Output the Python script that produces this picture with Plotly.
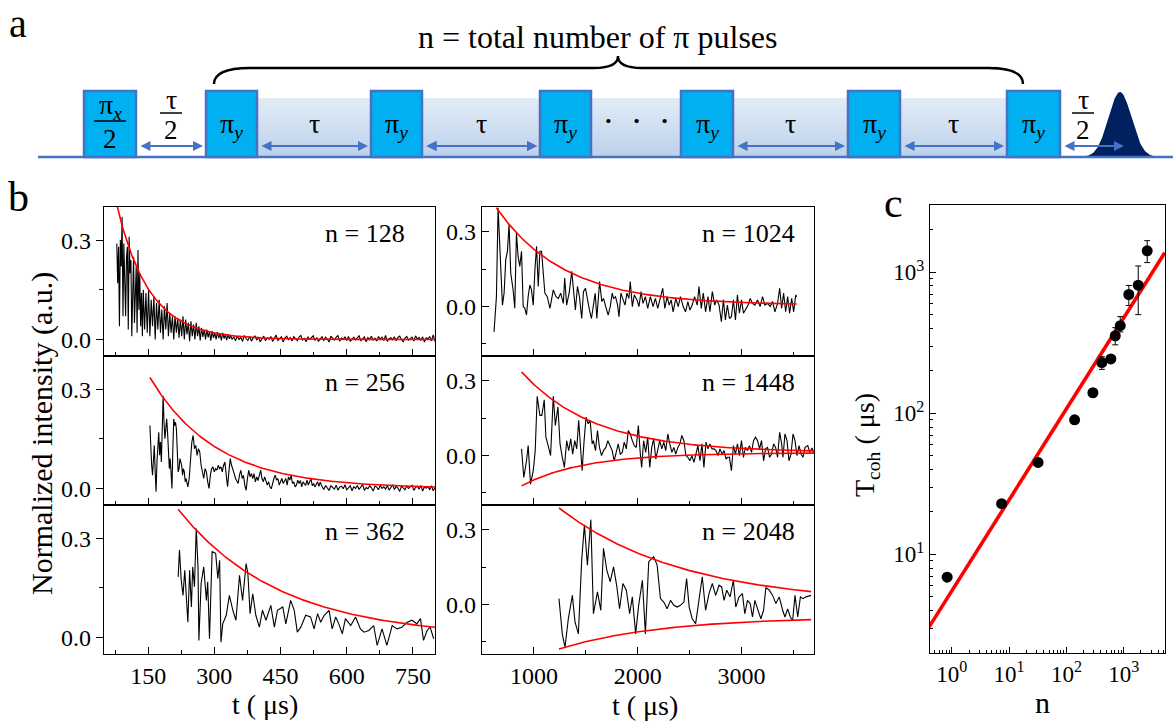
import numpy as np
import plotly.graph_objects as go

W, H = 1173, 721
FONT = "Liberation Serif, Times New Roman, serif"

# ================= panel b : measured traces =================
# n = 128 : regularly sampled segments (start, step, values)
n128_seg1_start, n128_seg1_step = 79, 2
n128_seg1 = [0.29, 0.17, 0.28, 0.04, 0.30, 0.22, 0.37, 0.07, 0.29, 0.16,
             0.07, 0.25, 0.28, 0.03, 0.31, 0.20, 0.24, 0.01, 0.19, 0.25,
             0.05, 0.16, 0.22, 0.02, 0.27, 0.09, 0.20, 0.04, 0.14, 0.01, 0.15]
n128_seg2_start, n128_seg2_step = 142, 3
n128_seg2 = [0.03, 0.14, 0.02, 0.15, 0.01, 0.12, 0.04, 0.13, 0.00, 0.11,
             0.03, 0.12, 0.02, 0.09, 0.00, 0.10, 0.03, 0.11, 0.01, 0.08,
             0.02, 0.07, 0.00, 0.07, 0.02, 0.065, 0.005, 0.06, 0.01, 0.07,
             0.00, 0.06, 0.015, 0.05, -0.005, 0.055, 0.01, 0.045, 0.00, 0.05,
             0.01, 0.04, -0.003, 0.035, 0.008, 0.03, 0.00, 0.03, 0.006, 0.025,
             -0.004, 0.025, 0.005, 0.02, 0.00, 0.022, 0.004, 0.017, -0.003, 0.02,
             0.003, 0.014, -0.002, 0.015, 0.002, 0.012, 0.00]
n128_seg3_start, n128_seg3_step = 344, 4
n128_seg3_milli = [8, -4, 10, 0, 6, -6, 12, 2, -3, 9, -5, 4, 11, -2, 7, -7, 3, 10, -4, 5,
                   0, 9, -6, 6, 13, -3, 2, 8, -8, 4, 10, -1, 6, -5, 9, 1, -4, 7, 12, -2,
                   3, -7, 8, 0, 5, 11, -3, 6, -6, 2, 9, -4, 7, 1, -8, 10, 3, -2, 6, 12,
                   -5, 4, 0, 8, -3, 9, -6, 2, 7, -1, 5, 11, -4, 3, 8, -7, 6, 0, 10, -2,
                   4, -5, 9, 1, 7, -3, 12, -6, 2, 5, -1, 8, -4, 6, 10, 0, -7, 4, 9, -2,
                   3, 7, -5, 11, 1, 6, -3, 8, -8, 5, 2, 9, -4, 14, -6]

# n = 256
n256_seg1_start, n256_seg1_step = 154, 2
n256_seg1 = [0.19, 0.10, 0.07, 0.04, 0.09, 0.13, 0.05, -0.01, 0.08, 0.12,
             0.17, 0.10, 0.14, 0.08, 0.16, 0.28, 0.20, 0.15, 0.18, 0.21,
             0.17, 0.12, 0.06, 0.09, 0.03, 0.00, 0.12, 0.21, 0.19, 0.20,
             0.18, 0.11, 0.05, 0.06, 0.09, 0.08, 0.07, 0.04, 0.06, 0.05,
             0.02, 0.03, 0.01, 0.005]
n256_seg2_start, n256_seg2_step = 243, 3
n256_seg2 = [0.03, 0.09, 0.14, 0.16, 0.12, 0.13, 0.10, 0.12, 0.11, 0.07,
             0.05, 0.03, 0.06, 0.05, 0.02, 0.00, 0.04, 0.06, 0.065, 0.05,
             0.06, 0.055, 0.07, 0.06, 0.065, 0.05, 0.07, 0.08, 0.04, 0.005,
             0.05, 0.09, 0.07, 0.06, 0.045, 0.03, 0.02, 0.015, 0.04, 0.055,
             0.03, 0.04, 0.01, -0.006, 0.03, 0.055, 0.035, 0.045, 0.03, 0.045,
             0.02, 0.035, 0.024, 0.04, 0.055, 0.03, 0.02, 0.035, 0.024, 0.01,
             0.02, 0.005, -0.001, 0.02, 0.03, 0.04, 0.025, 0.03, 0.01, 0.02,
             0.03, 0.015, 0.025, 0.03, 0.01, 0.035, 0.025, 0.04, 0.015, 0.02,
             0.005, 0.01, 0.025, 0.015, 0.024, 0.005, 0.02, 0.012, 0.009, 0.025,
             0.01, 0.02, 0.029, 0.008, 0.015, 0.004, 0.012, 0.02, 0.006, 0.019]
n256_seg3_start, n256_seg3_step = 544, 4
n256_seg3_milli = [6, -3, 9, 1, -6, 8, 3, -2, 10, -5, 4, 7, -1, 11, -4, 2, 8, -7, 5, 0,
                   9, -3, 6, 12, -6, 3, -1, 8, 2, -8, 7, 4, -4, 10, 0, 5, -2, 9, -5, 3,
                   11, -3, 6, 1, -9, 7, 2, -4, 8, 0, 5, 10, -6, 3, 7, -2, 9, -8, 4, 1,
                   6, -4, 8, -7, 2]

# n = 362
t362 = [218, 221, 225, 229, 233, 236, 240, 244, 248, 251, 255, 259, 263, 265, 270, 276, 282, 285, 289, 295,
        303, 308, 312, 315, 319, 327, 334, 342, 349, 357, 364, 372, 376, 381, 387, 394, 402, 409, 417, 428,
        436, 443, 455, 462, 473, 481, 488, 496, 507, 518, 526, 534, 541, 549, 560, 567, 575, 582, 590, 597,
        609, 620, 631, 639, 650, 661, 669, 680, 691, 703, 714, 725, 737, 748, 759, 767, 774, 782, 789, 797]
v362 = [.183, .264, .173, .127, .203, .142, .046, .203, .092, .213, .153, .329, .213, -.009, .163, .213, .112, .168, -.004, .259,
        .254, .178, .233, -.014, .041, .067, .127, .082, .052, .188, .112, .223, .193, .072, .132, .067, .031, .082, .052, .097,
        .031, .082, .092, .041, .112, .082, .016, .031, .067, .062, .026, .072, .046, .067, .082, .026, .062, .041, .011, .057,
        .036, .062, .026, .016, .021, .036, -.024, .026, -.024, .036, .026, .031, .046, .052, .041, .057, -.009, .021, .031, -.004]

# n = 1024
t1024 = [616, 639, 655, 677, 697, 713, 729, 745, 761, 777, 800, 816, 832, 848, 864, 881, 897, 913, 929, 945,
         961, 977, 994, 1010, 1026, 1042, 1058, 1074, 1090, 1106, 1129, 1155, 1187, 1213, 1236, 1258, 1284, 1297, 1316, 1342,
         1365, 1381, 1400, 1420, 1439, 1461, 1478, 1497, 1516, 1536, 1555, 1574, 1591, 1607, 1633, 1655, 1671, 1697, 1716, 1736,
         1755, 1768, 1787, 1807, 1820, 1839, 1858, 1878, 1897, 1916, 1929, 1949, 1968, 1994, 2013, 2033, 2052, 2075, 2097, 2123,
         2149, 2171, 2194, 2220, 2242, 2262, 2284, 2304, 2323, 2342, 2368, 2391, 2413, 2439, 2462, 2484, 2504, 2526, 2549, 2575,
         2591, 2614, 2633, 2655, 2678, 2697, 2720, 2743, 2762, 2785, 2807, 2827, 2846, 2865, 2885, 2904, 2923, 2943, 2962, 2981,
         3001, 3020, 3043, 3065, 3085, 3107, 3130, 3156, 3181, 3204, 3227, 3252, 3278, 3301, 3323, 3349, 3369, 3388, 3407, 3427,
         3446, 3465, 3485, 3504, 3524, 3533]
v1024 = [-.103, .039, .397, .201, .005, .053, .188, .222, .330, .134, .066, -.008, .296, .201, .161, .222, -.001, -.008, -.035, .039,
         .086, .066, .005, .147, .242, .080, .222, .222, .120, .053, .039, -.008, .066, .039, .032, .053, .012, .114, .005, .059,
         .141, .066, -.015, .080, .039, -.049, .059, .073, .026, -.015, -.049, .005, .053, -.049, .100, .019, .032, -.008, -.035, -.001,
         .053, .032, .039, .005, -.042, .053, .032, .005, .053, .032, .100, -.001, .046, .026, -.001, .059, .012, .039, -.008, .039,
         -.001, .032, -.008, .039, .073, -.008, .039, .005, .026, -.022, .032, -.001, .039, -.001, -.022, .019, -.015, .005, .039, .005,
         .080, -.008, .053, -.022, .039, -.022, .059, .005, .026, .005, -.062, .026, -.055, .005, -.049, -.042, .026, -.055, .046, -.028,
         .026, -.028, -.008, .005, .032, .012, .005, .026, -.001, .039, .005, .012, -.001, .019, -.022, .012, .073, -.008, .053, -.022,
         .039, -.028, .032, -.022, .046, .039]

# n = 1448
t1448 = [881, 903, 929, 945, 968, 994, 1013, 1032, 1058, 1077, 1100, 1116, 1142, 1161, 1187, 1207, 1232, 1252, 1274, 1294,
         1316, 1336, 1355, 1374, 1394, 1413, 1432, 1452, 1465, 1484, 1503, 1523, 1542, 1562, 1574, 1594, 1613, 1632, 1652, 1671,
         1694, 1713, 1736, 1755, 1774, 1794, 1813, 1833, 1852, 1871, 1891, 1910, 1929, 1949, 1968, 1987, 2007, 2026, 2039, 2058,
         2078, 2097, 2117, 2136, 2155, 2175, 2194, 2213, 2233, 2252, 2271, 2291, 2310, 2330, 2349, 2368, 2388, 2407, 2426, 2446,
         2465, 2484, 2504, 2523, 2543, 2562, 2581, 2601, 2620, 2639, 2659, 2678, 2697, 2717, 2736, 2755, 2775, 2794, 2814, 2833,
         2852, 2865, 2885, 2904, 2923, 2943, 2962, 2981, 3001, 3020, 3039, 3059, 3078, 3098, 3117, 3136, 3156, 3175, 3194, 3214,
         3233, 3252, 3272, 3291, 3311, 3330, 3349, 3369, 3388, 3401, 3420, 3440, 3459, 3478, 3498, 3517, 3536, 3556, 3575, 3594,
         3614, 3640, 3659, 3680, 3706]
v1448 = [.026, -.089, -.022, .039, -.116, -.062, .019, .238, .161, .161, .224, .073, .032, -.001, .238, .120, .195, .046, -.008, -.049,
         .059, .019, .066, .005, .059, .026, .141, -.008, -.062, .059, .154, .127, .141, .046, .059, .019, .100, .032, -.001, .019,
         .032, .059, .039, .019, -.022, .019, .046, .005, .012, .053, .026, .100, .086, .059, .039, .032, .120, .005, -.049, .059,
         .012, .073, -.049, .032, .066, -.015, .019, .059, .026, .053, .019, .086, .046, .012, .032, .005, .032, .046, .080, .059,
         -.001, -.008, -.022, -.001, -.028, .005, .039, -.022, .046, -.049, .053, .026, .046, .026, .026, .019, -.001, .026, .005, .019,
         -.015, -.008, -.008, -.062, .039, .005, .046, -.001, .059, -.008, .032, .019, .039, .012, .059, .073, .059, .026, .059, -.022,
         .026, .032, -.008, .005, .046, .032, -.008, .093, .046, -.008, .086, .059, -.022, .005, .086, .059, -.001, .039, .005, -.008,
         .032, .039, .012, .030, .005]

# n = 2048
t2048 = [1242, 1274, 1300, 1332, 1371, 1397, 1429, 1461, 1487, 1516, 1549, 1574, 1613, 1645, 1671, 1703, 1736, 1768, 1800, 1826,
         1858, 1891, 1923, 1949, 1981, 2010, 2046, 2075, 2107, 2155, 2188, 2220, 2252, 2284, 2317, 2349, 2381, 2413, 2446, 2472,
         2497, 2526, 2559, 2591, 2623, 2655, 2688, 2720, 2752, 2785, 2810, 2833, 2859, 2891, 2923, 2946, 2978, 3010, 3033, 3059,
         3085, 3107, 3130, 3156, 3188, 3214, 3236, 3269, 3301, 3333, 3365, 3398, 3420, 3446, 3472, 3494, 3517, 3543, 3569, 3594,
         3623, 3672]
v2048 = [.023, -.119, -.173, -.058, .036, -.072, -.119, .178, .320, .158, .341, -.038, .050, -.024, .226, .138, .091, .151, .070, -.018,
         .084, .057, -.038, .030, -.119, -.004, .097, -.119, .172, .192, .158, .023, .009, -.018, .016, -.004, -.011, -.004, .009, .104,
         -.011, -.058, -.078, .016, .111, -.024, .043, .084, .036, .077, .070, .016, .057, .030, .097, -.011, .030, .043, -.038, .016,
         .003, -.051, .016, -.018, -.058, -.024, .068, .057, .036, .003, .030, -.024, -.051, -.018, -.051, -.065, .036, -.051, .030, .023,
         .030, .036]

# exponential envelope fits: (t_start, t_end, t0, amplitude, decay time, offset)
fits_128 = [(75, 800, 80, 0.40, 73, 0.0)]
fits_256 = [(154, 800, 154, 0.335, 150, 0.0)]
fits_362 = [(218, 800, 218, 0.387, 230, 0.0)]
fits_1024 = [(639, 3533, 639, 0.392, 650, 0.005)]
fits_1448 = [(881, 3706, 881, 0.324, 700, 0.012), (881, 3706, 881, -0.133, 600, 0.010)]
fits_2048 = [(1242, 3672, 1242, 0.388, 1200, 0.0), (1242, 3672, 1242, -0.13, 1000, -0.05)]

# ================= panel c =================
n_pulses = [0.83, 7.4, 32, 139, 290, 415, 596, 711, 869, 1227, 1790, 2567]
T_coh = [6.9, 22.9, 44.9, 90, 140, 229, 243, 355, 418, 696, 811, 1419]
T_err_plus = [0, 0, 0, 0, 0, 23, 0, 50, 67, 111, 298, 256]
T_err_minus = [0, 0, 0, 0, 0, 24, 0, 49, 40, 115, 310, 247]
fit_n = [0.4, 5200]
fit_T = [3.05, 1378]

# ================= panel a : pulse sequence schematic (drawing units = px) =================
pulse_left = [84, 206, 371, 540, 681, 848, 1007]
pulse_right = [136, 257, 422, 591, 733, 900, 1060]
tau_gaps = [(1, 2), (2, 3), (4, 5), (5, 6)]


def segs(parts):
    ts, vs = [], []
    for start, step, vals in parts:
        ts.append(start + step * np.arange(len(vals)))
        vs.append(np.asarray(vals, dtype=float))
    return np.concatenate(ts), np.concatenate(vs)


t128, v128 = segs([(n128_seg1_start, n128_seg1_step, n128_seg1),
                   (n128_seg2_start, n128_seg2_step, n128_seg2),
                   (n128_seg3_start, n128_seg3_step, np.array(n128_seg3_milli) / 1000.0)])
t256, v256 = segs([(n256_seg1_start, n256_seg1_step, n256_seg1),
                   (n256_seg2_start, n256_seg2_step, n256_seg2),
                   (n256_seg3_start, n256_seg3_step, np.array(n256_seg3_milli) / 1000.0)])

panels = [
    (1, t128, v128, fits_128, "n = 128"),
    (2, t256, v256, fits_256, "n = 256"),
    (3, t362, v362, fits_362, "n = 362"),
    (4, t1024, v1024, fits_1024, "n = 1024"),
    (5, t1448, v1448, fits_1448, "n = 1448"),
    (6, t2048, v2048, fits_2048, "n = 2048"),
]


def r(i, k):
    return k if i == 1 else f"{k}{i}"


def an(i, k):
    return f"{k}axis" if i == 1 else f"{k}axis{i}"


fig = go.Figure()

for i, t, v, fits, lab in panels:
    fig.add_trace(go.Scatter(x=t, y=v, mode="lines", line=dict(color="black", width=1.1),
                             xaxis=r(i, "x"), yaxis=r(i, "y"), hoverinfo="skip", showlegend=False))
    for (ts, te, t0, A, T, c) in fits:
        tt = np.linspace(ts, te, 300)
        fig.add_trace(go.Scatter(x=tt, y=c + A * np.exp(-(tt - t0) / T), mode="lines",
                                 line=dict(color="#FF0000", width=1.6),
                                 xaxis=r(i, "x"), yaxis=r(i, "y"), hoverinfo="skip", showlegend=False))

# panel c
fig.add_trace(go.Scatter(x=fit_n, y=fit_T, mode="lines", line=dict(color="#FF0000", width=3.6),
                         xaxis="x7", yaxis="y7", showlegend=False, hoverinfo="skip"))
fig.add_trace(go.Scatter(x=n_pulses, y=T_coh, mode="markers",
                         marker=dict(color="black", size=11),
                         error_y=dict(type="data", array=T_err_plus, arrayminus=T_err_minus,
                                      color="black", thickness=1, width=3, symmetric=False),
                         xaxis="x7", yaxis="y7", showlegend=False))

# panel a traces (band with gradient, gaussian readout pulse)
band_top, base_y, box_top = 98, 157, 91
fig.add_trace(go.Scatter(x=[pulse_left[1], pulse_right[-1], pulse_right[-1], pulse_left[1], pulse_left[1]],
                         y=[band_top, band_top, base_y, base_y, band_top], mode="lines", fill="toself",
                         line=dict(width=0), fillgradient=dict(type="vertical", start=band_top, stop=base_y,
                                                               colorscale=[[0, "#E2ECF7"], [1, "#BCD1EA"]]),
                         xaxis="x8", yaxis="y8", hoverinfo="skip", showlegend=False))
gx = np.linspace(1082, 1158, 120)
gy = base_y - 65 * np.exp(-0.5 * ((gx - 1120) / 11.5) ** 2)
fig.add_trace(go.Scatter(x=np.concatenate([gx, [1158, 1082]]), y=np.concatenate([gy, [base_y, base_y]]),
                         mode="lines", fill="toself", fillcolor="#002060", line=dict(width=0, color="#002060"),
                         xaxis="x8", yaxis="y8", hoverinfo="skip", showlegend=False))

# ---------------- axes ----------------
def xd(p0, p1):
    return [p0 / W, p1 / W]


def yd(top, bot):
    return [1 - bot / H, 1 - top / H]


rows = [(207, 356), (356, 505), (505, 654)]
base_axis = dict(showline=True, linecolor="black", linewidth=1.3, mirror=True, showgrid=False, zeroline=False,
                 tickcolor="black", tickwidth=1.3, tickfont=dict(family=FONT, size=24, color="black"))
lay = {}
for i in range(1, 7):
    left = i <= 3
    row = rows[(i - 1) % 3]
    bottom = (i % 3 == 0)
    xa = dict(base_axis, domain=xd(104, 435) if left else xd(482, 814), anchor=r(i, "y"),
              ticks="inside", ticklen=7, showticklabels=bottom)
    if left:
        xa.update(range=[50, 800], tickmode="array", tickvals=[150, 300, 450, 600, 750],
                  minor=dict(tickmode="array", tickvals=[75, 225, 375, 525, 675], ticks="inside", ticklen=4,
                             tickcolor="black", tickwidth=1.3))
    else:
        xa.update(range=[500, 3700], tickmode="array", tickvals=[1000, 2000, 3000],
                  minor=dict(tickmode="array", tickvals=[1500, 2500, 3500], ticks="inside", ticklen=4,
                             tickcolor="black", tickwidth=1.3))
    ya = dict(base_axis, domain=yd(*row), anchor=r(i, "x"), tickmode="array", tickvals=[0, 0.3],
              ticktext=["0.0", "0.3"])
    if left:
        ya.update(range=[-0.05, 0.4], ticks="outside", ticklen=7,
                  minor=dict(tickmode="array", tickvals=[0.15], ticks="outside", ticklen=4,
                             tickcolor="black", tickwidth=1.3))
    else:
        ya.update(range=[-0.2, 0.4], ticks="inside", ticklen=7,
                  minor=dict(tickmode="array", tickvals=[-0.15, 0.15], ticks="inside", ticklen=4,
                             tickcolor="black", tickwidth=1.3))
    lay[an(i, "x")] = xa
    lay[an(i, "y")] = ya

minor_log_x = [k * 10 ** d for d in range(-1, 4) for k in range(2, 10) if 0.42 <= k * 10 ** d <= 5200]
minor_log_y = [k * 10 ** d for d in range(0, 4) for k in range(2, 10) if 2 <= k * 10 ** d <= 3000]
lay["xaxis7"] = dict(base_axis, type="log", domain=xd(930, 1165), anchor="y7", range=[-0.38, 3.72],
                     tickmode="array", tickvals=[1, 10, 100, 1000],
                     ticktext=["10<sup>0</sup>", "10<sup>1</sup>", "10<sup>2</sup>", "10<sup>3</sup>"],
                     ticks="inside", ticklen=6, tickfont=dict(family=FONT, size=23, color="black"),
                     minor=dict(tickmode="array", tickvals=minor_log_x, ticks="inside", ticklen=3,
                                tickcolor="black", tickwidth=1))
lay["yaxis7"] = dict(base_axis, type="log", domain=yd(205, 653), anchor="x7", range=[np.log10(2), np.log10(3000)],
                     tickmode="array", tickvals=[10, 100, 1000],
                     ticktext=["10<sup>1</sup>", "10<sup>2</sup>", "10<sup>3</sup>"],
                     ticks="inside", ticklen=6, tickfont=dict(family=FONT, size=23, color="black"),
                     minor=dict(tickmode="array", tickvals=minor_log_y, ticks="inside", ticklen=3,
                                tickcolor="black", tickwidth=1))
lay["xaxis8"] = dict(domain=[0, 1], range=[0, W], visible=False, anchor="y8", fixedrange=True)
lay["yaxis8"] = dict(domain=[0, 1], range=[H, 0], visible=False, anchor="x8", fixedrange=True)

# ---------------- shapes (panel a) ----------------
BLUE = "#4472C4"
shapes = [dict(type="line", xref="x8", yref="y8", x0=38, x1=W, y0=base_y, y1=base_y,
               line=dict(color=BLUE, width=2.5))]
for x0, x1 in zip(pulse_left, pulse_right):
    shapes.append(dict(type="rect", xref="x8", yref="y8", x0=x0, x1=x1, y0=box_top, y1=base_y,
                       fillcolor="#00B0F0", line=dict(color=BLUE, width=2.5)))
# fraction bars
shapes.append(dict(type="line", xref="x8", yref="y8", x0=94, x1=126, y0=121, y1=121, line=dict(color="black", width=1.5)))
for cx in [171, 1083]:
    shapes.append(dict(type="line", xref="x8", yref="y8", x0=cx - 11, x1=cx + 11, y0=113, y1=113,
                       line=dict(color="black", width=1.5)))
# brace
shapes.append(dict(type="path", xref="x8", yref="y8",
                   path="M 214,84 C 214,74 226,68 250,68 L 594,68 C 610,68 618,64 618,56 "
                        "C 618,64 626,68 642,68 L 988,68 C 1012,68 1023,74 1023,84",
                   line=dict(color="black", width=2.4)))

# ---------------- annotations ----------------
ann = []


def txt(x, y, s, size, angle=0, xanchor="center", xref="x8", yref="y8"):
    ann.append(dict(x=x, y=y, xref=xref, yref=yref, text=s, showarrow=False, textangle=angle,
                    xanchor=xanchor, yanchor="middle", font=dict(family=FONT, size=size, color="black")))


def arrow(xa, xb, y):
    ann.append(dict(x=xb, y=y, ax=xa, ay=y, xref="x8", yref="y8", axref="x8", ayref="y8", text="",
                    showarrow=True, arrowhead=2, startarrowhead=2, arrowside="end+start", arrowsize=1,
                    startarrowsize=1, arrowwidth=2, arrowcolor=BLUE, standoff=0, startstandoff=0))


txt(18, 23, "a", 40)
txt(18, 197, "b", 42)
txt(893, 203, "c", 42)
txt(597, 37, "n = total number of π pulses", 32)

# pulse labels
txt(110, 106, "π<sub><i>x</i></sub>", 28)
txt(110, 139, "2", 27)
for k in range(1, 7):
    txt((pulse_left[k] + pulse_right[k]) / 2, 125, "π<sub><i>y</i></sub>", 28)
for a_, b_ in tau_gaps:
    cx = (pulse_right[a_] + pulse_left[b_]) / 2
    txt(cx, 123, "τ", 28)
for cx in [171, 1083]:
    txt(cx, 99, "τ", 28)
    txt(cx, 130, "2", 27)
txt((pulse_right[3] + pulse_left[4]) / 2, 120, "<b>·   ·   ·</b>", 26)

arrow_y = 146
arrow(pulse_right[0] + 3, pulse_left[1] - 3, arrow_y)
for a_, b_ in tau_gaps:
    arrow(pulse_right[a_] + 3, pulse_left[b_] - 3, arrow_y)
arrow(pulse_right[2] + 3, pulse_left[3] - 3, arrow_y)
arrow(pulse_right[6] + 3, 1124, arrow_y)

# panel b labels
for i, _, _, _, lab in panels:
    left = i <= 3
    ann.append(dict(x=0.915 if left else 0.95, y=0.82, xref=f"{r(i, 'x')} domain", yref=f"{r(i, 'y')} domain",
                    text=lab, showarrow=False, xanchor="right", yanchor="middle",
                    font=dict(family=FONT, size=26, color="black")))
txt(42, 434, "Normalized intensity (a.u.)", 30, angle=-90)
txt(265, 704, "t ( μs)", 28)
txt(645, 705, "t ( μs)", 28)
txt(866, 445, "T<sub>coh</sub> ( μs)", 28, angle=-90)
txt(1042, 702, "n", 30)

fig.update_layout(width=W, height=H, margin=dict(l=0, r=0, t=0, b=0), paper_bgcolor="white",
                  plot_bgcolor="rgba(0,0,0,0)", showlegend=False, shapes=shapes, annotations=ann,
                  font=dict(family=FONT, color="black"), **lay)

fig.write_html("out.html", config={"displayModeBar": False},
               post_script="document.body.style.margin='0px';document.body.style.overflow='hidden';")
